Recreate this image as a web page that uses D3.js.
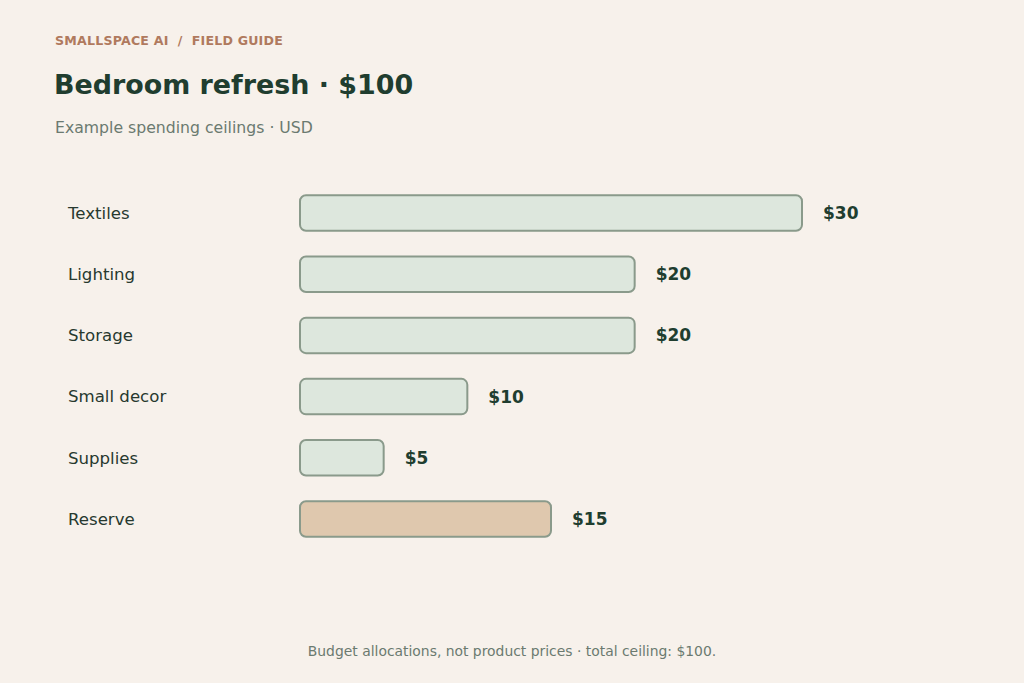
<!DOCTYPE html>
<html lang="en">
<head>
    <meta charset="UTF-8">
    <title>Bedroom refresh · $100</title>
    <script src="https://d3js.org/d3.v7.min.js"></script>
    <style>
        body {
            margin: 0;
            padding: 0;
            background-color: #f7f1eb;
            font-family: "DejaVu Sans", sans-serif;
        }
    </style>
</head>
<body>
    <svg id="chart"></svg>
    <script>
        const width = 1024, height = 683;

        const categories = ["Textiles", "Lighting", "Storage", "Small decor", "Supplies", "Reserve"];
        const amounts = [30, 20, 20, 10, 5, 15];
        const kinds = ["item", "item", "item", "item", "item", "reserve"];

        const svg = d3.select("#chart").attr("width", width).attr("height", height);

        svg.append("rect").attr("width", width).attr("height", height).attr("fill", "#f7f1eb");

        // header
        svg.append("text")
            .attr("x", 55).attr("y", 45)
            .attr("font-size", 12.6).attr("font-weight", "bold")
            .attr("letter-spacing", 0.2)
            .attr("fill", "#b07a5e")
            .attr("xml:space", "preserve")
            .text("SMALLSPACE AI  /  FIELD GUIDE");

        svg.append("text")
            .attr("x", 54).attr("y", 94)
            .attr("font-size", 26.9).attr("font-weight", "bold")
            .attr("fill", "#203d2f")
            .text("Bedroom refresh · $100");

        svg.append("text")
            .attr("x", 55).attr("y", 133)
            .attr("font-size", 15.7)
            .attr("fill", "#6b7a70")
            .text("Example spending ceilings · USD");

        const x = d3.scaleLinear().domain([0, 30]).range([300, 802]);
        const y = d3.scaleBand().domain(categories).range([183, 549]).paddingInner(0.42).paddingOuter(0.2);

        const rows = svg.append("g").selectAll("g")
            .data(categories)
            .enter().append("g");

        rows.append("text")
            .attr("x", 68)
            .attr("y", d => y(d) + y.bandwidth() / 2)
            .attr("dy", "0.35em")
            .attr("font-size", 16.6)
            .attr("fill", "#27392f")
            .text(d => d);

        rows.append("rect")
            .attr("x", x(0))
            .attr("y", d => y(d))
            .attr("width", (d, i) => x(amounts[i]) - x(0))
            .attr("height", y.bandwidth())
            .attr("rx", 6)
            .attr("fill", (d, i) => kinds[i] === "reserve" ? "#dfc8ae" : "#dde7dd")
            .attr("stroke", "#8a9a8b")
            .attr("stroke-width", 2);

        rows.append("text")
            .attr("x", (d, i) => x(amounts[i]) + 21)
            .attr("y", d => y(d) + y.bandwidth() / 2)
            .attr("dy", "0.35em")
            .attr("font-size", 17).attr("font-weight", "bold")
            .attr("fill", "#203d2f")
            .text((d, i) => "$" + amounts[i]);

        // footer
        svg.append("text")
            .attr("x", width / 2).attr("y", 656)
            .attr("text-anchor", "middle")
            .attr("font-size", 13.9)
            .attr("fill", "#6b7a70")
            .text("Budget allocations, not product prices · total ceiling: $100.");
    </script>
</body>
</html>
